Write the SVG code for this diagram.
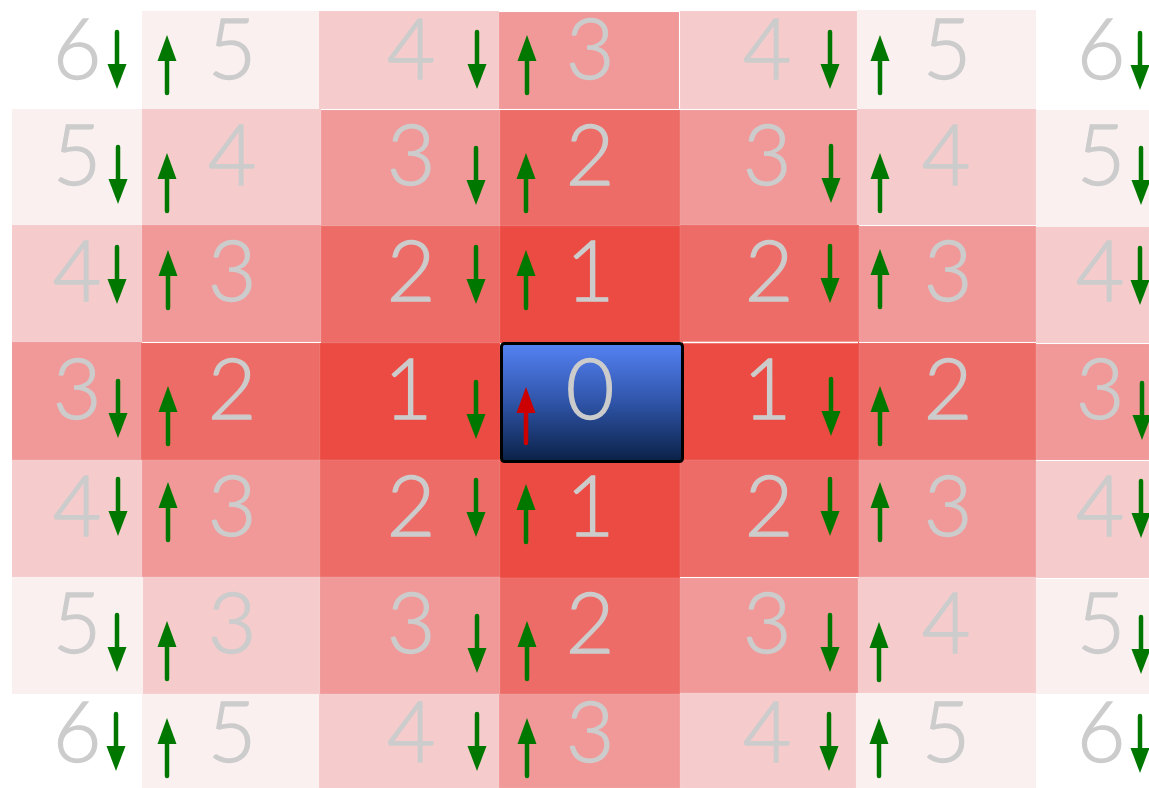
<svg xmlns="http://www.w3.org/2000/svg" xmlns:xlink="http://www.w3.org/1999/xlink" width="1149" height="788" viewBox="0 0 1149 788">
<style>
.c1{fill:#ec4b43}.c2{fill:#ee6c67}.c3{fill:#f19999}.c4{fill:#f5cbcc}.c5{fill:#fbf0f0}.c6{fill:#ffffff}
.cell rect{stroke:#ffffff;stroke-opacity:0.08;stroke-width:1}
.num{font-family:"Lato","Open Sans","Liberation Sans",sans-serif;font-weight:300;font-size:84px;fill:#cccccc;stroke:#cccccc;stroke-width:1.3;text-anchor:middle}
.ar{stroke-width:4.5;stroke-linecap:round}
</style>
<defs>
<linearGradient id="blue" x1="0" y1="0" x2="0" y2="1">
<stop offset="0" stop-color="#5582f4"/>
<stop offset="0.5" stop-color="#2f54a8"/>
<stop offset="1" stop-color="#0a2146"/>
</linearGradient>
<g id="down"><line class="ar" x1="0" y1="0" x2="0" y2="34" stroke="#007800"/><polygon points="-9.5,32 9.5,32 0,57" fill="#007800"/></g>
<g id="up"><line class="ar" x1="0" y1="24" x2="0" y2="58" stroke="#007800"/><polygon points="-9.5,26 9.5,26 0,0" fill="#007800"/></g>
<g id="upred"><line class="ar" x1="0" y1="24" x2="0" y2="56" stroke="#cc0000"/><polygon points="-9.5,26 9.5,26 0,0" fill="#cc0000"/></g>
</defs>
<rect width="1149" height="788" fill="#ffffff"/>

<g id="row0">
<g id="cell-r0c0" class="cell"><text class="num" x="77" y="79">6</text></g>
<g id="cell-r0c1" class="cell"><rect class="c5" x="142" y="11" width="177" height="98"/><text class="num" x="232" y="79">5</text></g>
<g id="cell-r0c2" class="cell"><rect class="c4" x="319" y="11" width="180" height="98"/><text class="num" x="411" y="79">4</text></g>
<g id="cell-r0c3" class="cell"><rect class="c3" x="499" y="12" width="180" height="97"/><text class="num" x="590" y="79">3</text></g>
<g id="cell-r0c4" class="cell"><rect class="c4" x="680" y="11" width="177" height="98"/><text class="num" x="767" y="79">4</text></g>
<g id="cell-r0c5" class="cell"><rect class="c5" x="857" y="10" width="179" height="99"/><text class="num" x="947" y="79">5</text></g>
<g id="cell-r0c6" class="cell"><text class="num" x="1101" y="79">6</text></g>
</g>

<g id="row1">
<g id="cell-r1c0" class="cell"><rect class="c5" x="12" y="109" width="130" height="116"/><text class="num" x="77" y="185">5</text></g>
<g id="cell-r1c1" class="cell"><rect class="c4" x="142" y="109" width="179" height="116"/><text class="num" x="232" y="185">4</text></g>
<g id="cell-r1c2" class="cell"><rect class="c3" x="321" y="110" width="179" height="116"/><text class="num" x="411" y="185">3</text></g>
<g id="cell-r1c3" class="cell"><rect class="c2" x="500" y="110" width="180" height="116"/><text class="num" x="590" y="185">2</text></g>
<g id="cell-r1c4" class="cell"><rect class="c3" x="680" y="110" width="177" height="115"/><text class="num" x="767" y="185">3</text></g>
<g id="cell-r1c5" class="cell"><rect class="c4" x="857" y="109" width="179" height="116"/><text class="num" x="946" y="185">4</text></g>
<g id="cell-r1c6" class="cell"><rect class="c5" x="1036" y="110" width="113" height="117"/><text class="num" x="1101" y="185">5</text></g>
</g>

<g id="row2">
<g id="cell-r2c0" class="cell"><rect class="c4" x="12" y="225" width="130" height="117"/><text class="num" x="77" y="301">4</text></g>
<g id="cell-r2c1" class="cell"><rect class="c3" x="142" y="225" width="179" height="117"/><text class="num" x="232" y="301">3</text></g>
<g id="cell-r2c2" class="cell"><rect class="c2" x="321" y="226" width="179" height="117"/><text class="num" x="411" y="301">2</text></g>
<g id="cell-r2c3" class="cell"><rect class="c1" x="500" y="226" width="180" height="117"/><text class="num" x="590" y="301">1</text></g>
<g id="cell-r2c4" class="cell"><rect class="c2" x="680" y="225" width="179" height="117"/><text class="num" x="769" y="301">2</text></g>
<g id="cell-r2c5" class="cell"><rect class="c3" x="859" y="226" width="177" height="116"/><text class="num" x="948" y="301">3</text></g>
<g id="cell-r2c6" class="cell"><rect class="c4" x="1036" y="227" width="113" height="116"/><text class="num" x="1100" y="301">4</text></g>
</g>

<g id="row3">
<g id="cell-r3c0" class="cell"><rect class="c3" x="12" y="342" width="130" height="118"/><text class="num" x="77" y="419">3</text></g>
<g id="cell-r3c1" class="cell"><rect class="c2" x="141" y="343" width="179" height="117"/><text class="num" x="232" y="419">2</text></g>
<g id="cell-r3c2" class="cell"><rect class="c1" x="320" y="343" width="180" height="117"/><text class="num" x="408" y="419">1</text></g>
<g id="cell-r3c4" class="cell"><rect class="c1" x="682" y="342" width="177" height="118"/><text class="num" x="767" y="419">1</text></g>
<g id="cell-r3c5" class="cell"><rect class="c2" x="859" y="343" width="177" height="117"/><text class="num" x="948" y="419">2</text></g>
<g id="cell-r3c6" class="cell"><rect class="c3" x="1036" y="344" width="113" height="116"/><text class="num" x="1100" y="419">3</text></g>
<line x1="683" y1="342.5" x2="858" y2="342.5" stroke="#ffffff" stroke-width="1.5"/>
</g>

<g id="row4">
<g id="cell-r4c0" class="cell"><rect class="c4" x="12" y="460" width="130" height="117"/><text class="num" x="77" y="536">4</text></g>
<g id="cell-r4c1" class="cell"><rect class="c3" x="142" y="460" width="179" height="117"/><text class="num" x="232" y="536">3</text></g>
<g id="cell-r4c2" class="cell"><rect class="c2" x="320" y="460" width="180" height="117"/><text class="num" x="411" y="536">2</text></g>
<g id="cell-r4c3" class="cell"><rect class="c1" x="500" y="460" width="180" height="118"/><text class="num" x="590" y="536">1</text></g>
<g id="cell-r4c4" class="cell"><rect class="c2" x="680" y="460" width="179" height="117"/><text class="num" x="769" y="536">2</text></g>
<g id="cell-r4c5" class="cell"><rect class="c3" x="859" y="460" width="177" height="117"/><text class="num" x="948" y="536">3</text></g>
<g id="cell-r4c6" class="cell"><rect class="c4" x="1036" y="461" width="113" height="117"/><text class="num" x="1100" y="536">4</text></g>
</g>

<g id="row5">
<g id="cell-r5c0" class="cell"><rect class="c5" x="12" y="577" width="131" height="117"/><text class="num" x="77" y="653">5</text></g>
<g id="cell-r5c1" class="cell"><rect class="c4" x="143" y="577" width="177" height="117"/><text class="num" x="232" y="653">3</text></g>
<g id="cell-r5c2" class="cell"><rect class="c3" x="320" y="577" width="180" height="117"/><text class="num" x="411" y="653">3</text></g>
<g id="cell-r5c3" class="cell"><rect class="c2" x="500" y="578" width="180" height="116"/><text class="num" x="590" y="653">2</text></g>
<g id="cell-r5c4" class="cell"><rect class="c3" x="680" y="578" width="178" height="115"/><text class="num" x="767" y="653">3</text></g>
<g id="cell-r5c5" class="cell"><rect class="c4" x="858" y="577" width="178" height="116"/><text class="num" x="946" y="653">4</text></g>
<g id="cell-r5c6" class="cell"><rect class="c5" x="1036" y="579" width="113" height="115"/><text class="num" x="1101" y="653">5</text></g>
</g>

<g id="row6">
<g id="cell-r6c0" class="cell"><text class="num" x="77" y="762">6</text></g>
<g id="cell-r6c1" class="cell"><rect class="c5" x="142" y="694" width="177" height="94"/><text class="num" x="232" y="762">5</text></g>
<g id="cell-r6c2" class="cell"><rect class="c4" x="319" y="694" width="180" height="94"/><text class="num" x="411" y="762">4</text></g>
<g id="cell-r6c3" class="cell"><rect class="c3" x="499" y="694" width="181" height="94"/><text class="num" x="590" y="762">3</text></g>
<g id="cell-r6c4" class="cell"><rect class="c4" x="680" y="693" width="176" height="95"/><text class="num" x="767" y="762">4</text></g>
<g id="cell-r6c5" class="cell"><rect class="c5" x="856" y="693" width="180" height="95"/><text class="num" x="946" y="762">5</text></g>
<g id="cell-r6c6" class="cell"><text class="num" x="1101" y="762">6</text></g>
</g>

<g id="cell-r3c3">
<rect x="501.5" y="343.5" width="181" height="118" rx="3" fill="url(#blue)" stroke="#000000" stroke-width="3"/>
<text class="num" x="590" y="419">0</text>
</g>

<g id="connectors">
<use href="#down" x="117" y="32"/><use href="#up" x="167" y="35"/><use href="#down" x="477" y="32"/><use href="#up" x="527" y="35"/><use href="#down" x="830" y="32"/><use href="#up" x="880" y="35"/><use href="#down" x="1140" y="33"/>
<use href="#down" x="118" y="147"/><use href="#up" x="167" y="153"/><use href="#down" x="476" y="148"/><use href="#up" x="526" y="153"/><use href="#down" x="831" y="146"/><use href="#up" x="880" y="153"/><use href="#down" x="1141" y="148"/>
<use href="#down" x="117" y="247"/><use href="#up" x="168" y="250"/><use href="#down" x="476" y="247"/><use href="#up" x="526" y="250"/><use href="#down" x="830" y="246"/><use href="#up" x="880" y="249"/><use href="#down" x="1140" y="248"/>
<use href="#down" x="118" y="381"/><use href="#up" x="168" y="386"/><use href="#down" x="476" y="382"/><use href="#down" x="831" y="379"/><use href="#up" x="880" y="386"/><use href="#down" x="1142" y="383"/>
<use href="#upred" x="526" y="387"/>
<use href="#down" x="118" y="479"/><use href="#up" x="168" y="482"/><use href="#down" x="476" y="480"/><use href="#up" x="526" y="484"/><use href="#down" x="830" y="479"/><use href="#up" x="880" y="482"/><use href="#down" x="1141" y="481"/>
<use href="#down" x="117" y="615"/><use href="#up" x="167" y="621"/><use href="#down" x="477" y="616"/><use href="#up" x="527" y="621"/><use href="#down" x="830" y="615"/><use href="#up" x="879" y="622"/><use href="#down" x="1141" y="617"/>
<use href="#down" x="116" y="714"/><use href="#up" x="167" y="718"/><use href="#down" x="477" y="714"/><use href="#up" x="527" y="718"/><use href="#down" x="829" y="714"/><use href="#up" x="879" y="718"/><use href="#down" x="1140" y="716"/>
</g>
</svg>
